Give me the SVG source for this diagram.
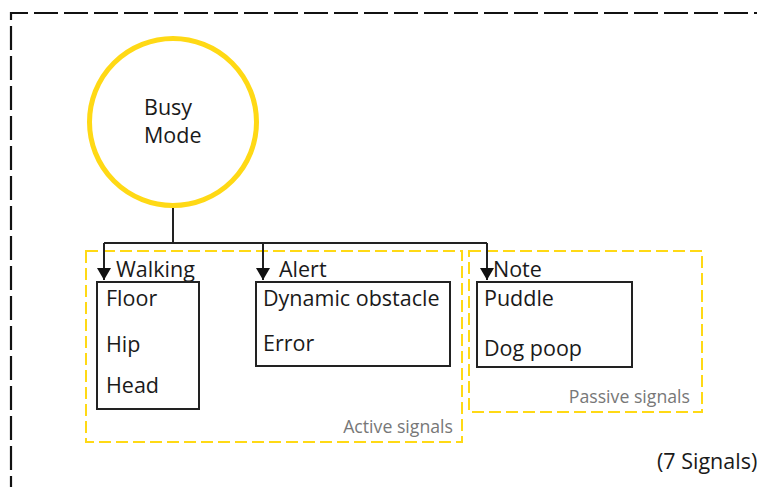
<svg xmlns="http://www.w3.org/2000/svg" width="757" height="487" viewBox="0 0 757 487">
<defs>
<style>
text{font-family:"Open Sans","Noto Sans","Liberation Sans",sans-serif;fill:#1a1a1a;font-size:21.5px}
.grp{font-size:17.7px;fill:#777}
.box{fill:#fff;stroke:#222;stroke-width:2}
.ydash{fill:none;stroke:#FFD915;stroke-width:2;stroke-dasharray:12 5}
.conn{fill:none;stroke:#222;stroke-width:2}
</style>
<marker id="arr" markerWidth="14" markerHeight="12" refX="7" refY="12" orient="0" markerUnits="userSpaceOnUse">
<path d="M0,0 L14,0 L7,12 Z" fill="#111"/>
</marker>
</defs>
<rect width="757" height="487" fill="#fff"/>
<path d="M11,500 V13 H780" fill="none" stroke="#111" stroke-width="2.2" stroke-dasharray="24 6"/>
<g id="group-active">
<rect class="ydash" x="86" y="251" width="376" height="191"/>
<text class="grp" x="453" y="433" text-anchor="end">Active signals</text>
</g>
<g id="group-passive">
<rect class="ydash" x="469" y="251" width="233" height="161"/>
<text class="grp" x="690" y="403" text-anchor="end">Passive signals</text>
</g>
<g id="connectors">
<path class="conn" d="M173,207 V243"/>
<path class="conn" d="M104,243 H487"/>
<path class="conn" d="M104,243 V280" marker-end="url(#arr)"/>
<path class="conn" d="M263,243 V280" marker-end="url(#arr)"/>
<path class="conn" d="M487,243 V280" marker-end="url(#arr)"/>
</g>
<g id="busy-mode">
<circle cx="173" cy="122" r="83.5" fill="#fff" stroke="#FFD915" stroke-width="5"/>
<text x="144" y="115">Busy</text>
<text x="144" y="143">Mode</text>
</g>
<g id="walking">
<text x="116" y="277">Walking</text>
<rect class="box" x="97" y="282" width="102" height="127"/>
<text x="106" y="306">Floor</text>
<text x="106" y="352">Hip</text>
<text x="106" y="393">Head</text>
</g>
<g id="alert">
<text x="279" y="277">Alert</text>
<rect class="box" x="256" y="282" width="194" height="84"/>
<text x="263" y="306">Dynamic obstacle</text>
<text x="263" y="351">Error</text>
</g>
<g id="note">
<text x="493" y="277">Note</text>
<rect class="box" x="477" y="282" width="155" height="85"/>
<text x="484" y="306">Puddle</text>
<text x="484" y="356">Dog poop</text>
</g>
<text x="657" y="469">(7 Signals)</text>
</svg>
